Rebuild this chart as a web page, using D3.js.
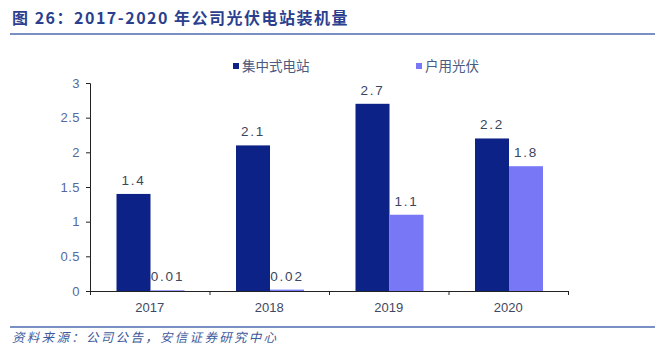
<!DOCTYPE html>
<html>
<head>
<meta charset="utf-8">
<script src="https://cdn.jsdelivr.net/npm/d3@7"></script>
<style>
  body { margin: 0; background: #fff; }
  svg { display: block; font-family: "Liberation Sans", Arial, sans-serif; }
</style>
</head>
<body>
<svg width="665" height="350"></svg>
<script>
// data
const years = ["2017", "2018", "2019", "2020"];
const seriesNames = ["集中式电站", "户用光伏"];
const centralized = [1.4, 2.1, 2.7, 2.2];
const household = [0.01, 0.02, 1.1, 1.8];
const labelsCentral = ["1.4", "2.1", "2.7", "2.2"];
const labelsHouse = ["0.01", "0.02", "1.1", "1.8"];
const yTicks = [0, 0.5, 1, 1.5, 2, 2.5, 3];
const yTickLabels = ["0", "0.5", "1", "1.5", "2", "2.5", "3"];

const colors = ["#0d2286", "#7878f7"];
const cjk = '"Noto Sans CJK SC", sans-serif';

const svg = d3.select('svg');

// title
svg.append('text')
  .attr('x', 12).attr('y', 24)
  .attr('fill', '#2b3f8e')
  .attr('font-size', 16).attr('font-weight', 'bold')
  .attr('letter-spacing', 1.5)
  .attr('font-family', cjk)
  .text('图 26：2017-2020 年公司光伏电站装机量');

svg.append('line')
  .attr('x1', 10).attr('x2', 655).attr('y1', 34).attr('y2', 34)
  .attr('stroke', '#4c6bb0').attr('stroke-width', 1.5);

svg.append('line')
  .attr('x1', 10).attr('x2', 655).attr('y1', 327).attr('y2', 327)
  .attr('stroke', '#4c6bb0').attr('stroke-width', 1.5);

svg.append('text')
  .attr('x', 12).attr('y', 342)
  .attr('fill', '#3d5a9c')
  .attr('font-size', 12.5).attr('font-style', 'italic')
  .attr('letter-spacing', 2.3)
  .attr('font-family', cjk)
  .text('资料来源：公司公告，安信证券研究中心');

// scales
const x0 = d3.scaleBand().domain(years).range([90, 568]);
const x1 = d3.scaleBand().domain(seriesNames).range([26.5, 94.5]);
const y = d3.scaleLinear().domain([0, 3]).range([291, 83]);

const g = svg.append('g');

// y axis
const yAxis = d3.axisLeft(y).tickValues(yTicks)
  .tickFormat((d, i) => yTickLabels[i]).tickSize(4).tickPadding(6);
const ya = g.append('g').attr('transform', 'translate(90,0)').call(yAxis);
ya.select('.domain').attr('stroke', '#222').attr('d', 'M-4,83.5H0.5V291.5');
ya.selectAll('.tick line').attr('stroke', '#222');
ya.selectAll('.tick text')
  .attr('fill', '#56689a').attr('font-size', 13)
  .attr('letter-spacing', 0.5);

// x axis baseline and ticks at band edges
g.append('line')
  .attr('x1', 90).attr('x2', 568).attr('y1', y(0) + 0.5).attr('y2', y(0) + 0.5)
  .attr('stroke', '#222');
const edges = years.map(d => x0(d)).concat([x0.range()[1]]);
g.selectAll('.xt').data(edges).enter().append('line')
  .attr('class', 'xt')
  .attr('x1', d => d + 0.5).attr('x2', d => d + 0.5)
  .attr('y1', y(0)).attr('y2', y(0) + 4)
  .attr('stroke', '#222');
g.selectAll('.xl').data(years).enter().append('text')
  .attr('class', 'xl')
  .attr('x', d => x0(d) + x0.bandwidth() / 2)
  .attr('y', 312)
  .attr('text-anchor', 'middle')
  .attr('fill', '#3f4862').attr('font-size', 13)
  .text(d => d);

// bars
const series = [
  { name: seriesNames[0], values: centralized, labels: labelsCentral },
  { name: seriesNames[1], values: household, labels: labelsHouse }
];

series.forEach((s, si) => {
  const bars = g.append('g');
  bars.selectAll('rect').data(s.values).enter().append('rect')
    .attr('x', (d, i) => x0(years[i]) + x1(s.name))
    .attr('y', d => y(d))
    .attr('width', x1.bandwidth())
    .attr('height', d => Math.max(y(0) - y(d), 0))
    .attr('fill', colors[si]);
  bars.selectAll('text').data(s.values).enter().append('text')
    .attr('x', (d, i) => x0(years[i]) + x1(s.name) + x1.bandwidth() / 2)
    .attr('y', d => y(d) - 9)
    .attr('text-anchor', 'middle')
    .attr('fill', '#3a4560').attr('font-size', 13.5)
    .attr('letter-spacing', 1.8)
    .text((d, i) => s.labels[i]);
});

// legend
const legendX = [233, 416];
series.forEach((s, si) => {
  svg.append('rect')
    .attr('x', legendX[si]).attr('y', 63)
    .attr('width', 6).attr('height', 6)
    .attr('fill', colors[si]);
  svg.append('text')
    .attr('x', legendX[si] + 9).attr('y', 71)
    .attr('fill', '#4a5a80').attr('font-size', 13.5)
    .attr('font-family', cjk)
    .text(s.name);
});
</script>
</body>
</html>
